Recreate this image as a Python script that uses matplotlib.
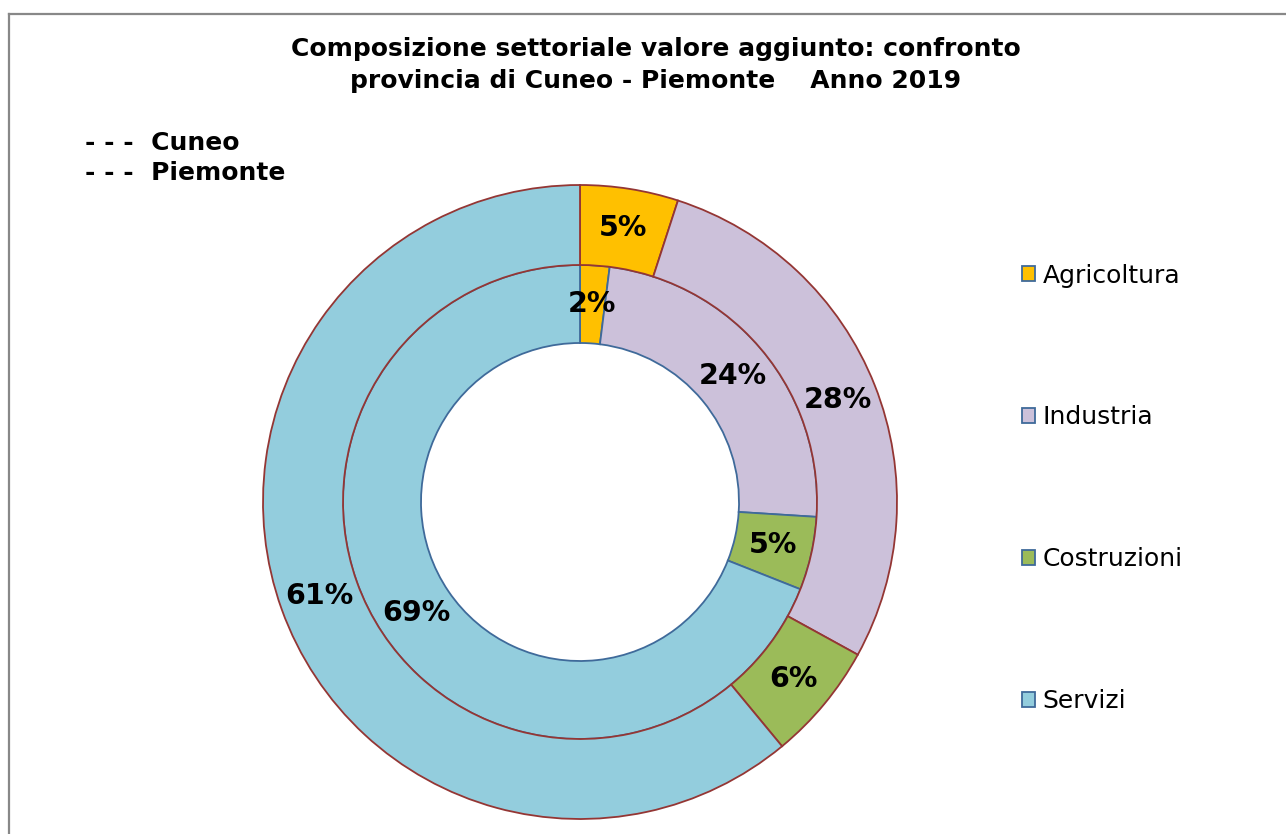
import matplotlib
matplotlib.use("Agg")
import matplotlib.pyplot as plt
from matplotlib.lines import Line2D

# data
sectors = ["Agricoltura", "Industria", "Costruzioni", "Servizi"]
cuneo = [5, 28, 6, 61]       # outer ring
piemonte = [2, 24, 5, 69]    # inner ring
colors = ["#FFC000", "#CCC1DA", "#9BBB59", "#93CDDD"]

W, H = 1286, 834
fig = plt.figure(figsize=(W / 100, H / 100), dpi=100)
ax = fig.add_axes([0, 0, 1, 1])

cx, cy = 580, H - 502
r_out, r_mid, r_in = 317, 237, 159

# inner ring first so the outer ring's edge sits on top
inner, _, inner_txt = ax.pie(
    piemonte, colors=colors, startangle=90, counterclock=False,
    radius=r_mid, center=(cx, cy),
    wedgeprops=dict(width=r_mid - r_in, edgecolor="#3F6A9A", linewidth=1.3),
    autopct=lambda p: f"{p:.0f}%", pctdistance=0.835,
    textprops=dict(fontsize=20.5, fontweight="bold", color="black"),
)
outer, _, outer_txt = ax.pie(
    cuneo, colors=colors, startangle=90, counterclock=False,
    radius=r_out, center=(cx, cy),
    wedgeprops=dict(width=r_out - r_mid, edgecolor="#943634", linewidth=1.3),
    autopct=lambda p: f"{p:.0f}%", pctdistance=0.874,
    textprops=dict(fontsize=20.5, fontweight="bold", color="black"),
)

ax.set_xlim(0, W)
ax.set_ylim(0, H)
ax.set_aspect("equal")
ax.axis("off")

# title
fig.text(656 / W, 1 - 65 / H,
         "Composizione settoriale valore aggiunto: confronto\n"
         "provincia di Cuneo - Piemonte    Anno 2019",
         ha="center", va="center", fontsize=18, fontweight="bold",
         linespacing=1.4)

# ring legend (text only)
fig.text(85 / W, 1 - 143 / H, "- - -  Cuneo", ha="left", va="center",
         fontsize=18, fontweight="bold")
fig.text(85 / W, 1 - 173 / H, "- - -  Piemonte", ha="left", va="center",
         fontsize=18, fontweight="bold")

# sector legend
leg = fig.legend(inner, sectors, loc="center left",
                 bbox_to_anchor=(1022 / W, 1 - 488.5 / H),
                 frameon=False, fontsize=18, borderpad=0, borderaxespad=0,
                 handlelength=0.52, handleheight=0.52, handletextpad=0.3,
                 labelspacing=4.72)

# chart frame (cropped on right/bottom)
fig.add_artist(Line2D([8.5 / W, 8.5 / W], [0, 1 - 13.5 / H],
                      transform=fig.transFigure, color="#888888", lw=1.6))
fig.add_artist(Line2D([8.5 / W, 1], [1 - 13.5 / H, 1 - 13.5 / H],
                      transform=fig.transFigure, color="#888888", lw=1.6))

fig.savefig("out.png", dpi=100)
